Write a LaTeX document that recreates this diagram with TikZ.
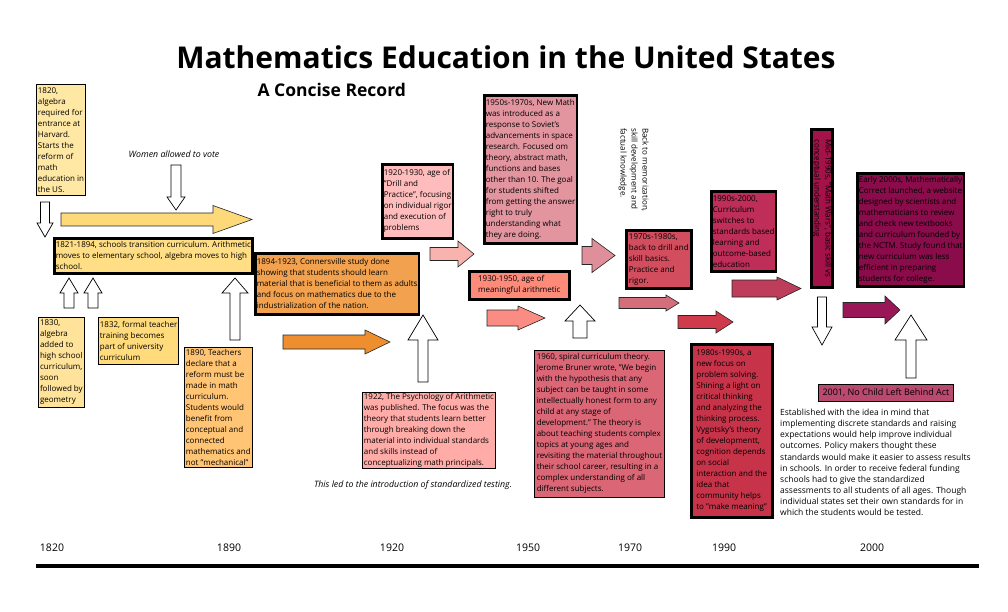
\documentclass[tikz,border=0pt]{standalone}
\usepackage{fontspec}
\setmainfont{Open Sans}
\usetikzlibrary{positioning}

\definecolor{c1820}{HTML}{FFE8A4}
\definecolor{c1821}{HTML}{FFDE85}
\definecolor{c1830}{HTML}{FFE39A}
\definecolor{c1832}{HTML}{FFDB7C}
\definecolor{c1890}{HTML}{FFC474}
\definecolor{c1894}{HTML}{F2A24E}
\definecolor{c1920}{HTML}{FFBCBC}
\definecolor{c1922}{HTML}{FFACA8}
\definecolor{c1950}{HTML}{E3959F}
\definecolor{c1930}{HTML}{FE8A7A}
\definecolor{c1960}{HTML}{DA6676}
\definecolor{c1970}{HTML}{D24D5E}
\definecolor{c1980}{HTML}{C7344A}
\definecolor{c1990}{HTML}{BE2E58}
\definecolor{cMid}{HTML}{A4124A}
\definecolor{cEarly}{HTML}{8A0C4B}
\definecolor{cNCLB}{HTML}{BA496F}
\definecolor{aYellow}{HTML}{FDD97A}
\definecolor{aOrange}{HTML}{EF8E2E}
\definecolor{aPink}{HTML}{F8B3AE}
\definecolor{aSalmon}{HTML}{FA8C84}
\definecolor{aRose}{HTML}{DF8F99}
\definecolor{aMauve}{HTML}{D46E7A}
\definecolor{aRed}{HTML}{CF3B4B}
\definecolor{aCrimson}{HTML}{BD3D5A}
\definecolor{aPlum}{HTML}{991657}

\newcommand{\boxfont}{\fontsize{8}{11}\selectfont}

\begin{document}
\begin{tikzpicture}[
    x=1pt, y=-1pt,
    font=\boxfont,
    box/.style={draw=black, line width=0.8pt, anchor=north west, align=left, inner xsep=1.5pt, inner ysep=1pt},
    heavy/.style={box, line width=2.6pt},
    blockarrow/.style={draw=black!85, line width=0.6pt},
    hollow/.style={draw=black, fill=white, line width=0.7pt},
    note/.style={font=\fontsize{8.8}{10}\selectfont\itshape},
    yearlbl/.style={font=\fontsize{10.5}{12}\selectfont},
]

\fill[white] (0,0) rectangle (1008,612);
\useasboundingbox (0,0) rectangle (1008,612);

% Title
\node[font=\fontsize{30}{35}\selectfont\bfseries] (title) at (506,57) {Mathematics Education in the United States};
\node[font=\fontsize{17.5}{20}\selectfont\bfseries, anchor=west] (subtitle) at (254,90) {A Concise Record};

% Block arrows pointing right
\foreach \xa/\xh/\xb/\yc/\sw/\hw/\col in {61/213/252/219.5/6.5/14/aYellow, 283/365/390/342/7/12/aOrange,
        430/458/474/254/6.5/13/aPink, 487/518/545/318/8/12/aSalmon, 582/592/615/255.5/9/17/aRose,
        619/666/679/303/5.5/8/aMauve, 678/716/733/322/6.5/11/aRed, 732/777/801/288.5/8.5/11.5/aCrimson,
        843/885/900/310/7.5/14/aPlum} {
    \filldraw[blockarrow, fill=\col] (\xa,\yc-\sw) -- (\xh,\yc-\sw) -- (\xh,\yc-\hw) -- (\xb,\yc)
        -- (\xh,\yc+\hw) -- (\xh,\yc+\sw) -- (\xa,\yc+\sw) -- cycle;
}

% Hollow arrows, up and down
\foreach \xc/\yb/\yh/\yt/\sw/\hw in {176/165/197/210/5/9, 45/202/223/237/4.5/8,
        69/308/293/278/5/9, 93/308/293/278/5/9, 235/340/293/278/5/13, 423/382/340/315/5/15,
        580/338/321/305/7/15, 822/297/327/345/4.5/10, 911/378/340/315/5/16} {
    \filldraw[hollow] (\xc-\sw,\yb) -- (\xc-\sw,\yh) -- (\xc-\hw,\yh) -- (\xc,\yt)
        -- (\xc+\hw,\yh) -- (\xc+\sw,\yh) -- (\xc+\sw,\yb) -- cycle;
}

% 1820 - 1890
\node[box, fill=c1820, minimum width=48pt, minimum height=111pt] (b1820) at (36,84)
    {1820,\\ algebra\\ required for\\ entrance at\\ Harvard.\\ Starts the\\ reform of\\ math\\ education in\\ the US.};
\node[note] (women) at (174,154) {Women allowed to vote};
\node[heavy, fill=c1821, minimum width=197pt, minimum height=35pt] (b1821) at (53,237)
    {1821-1894, schools transition curriculum. Arithmetic\\ moves to elementary school, algebra moves to high\\ school.};
\node[box, fill=c1830, minimum width=46pt, minimum height=90pt] (b1830) at (38,317)
    {1830,\\ algebra\\ added to\\ high school\\ curriculum,\\ soon\\ followed by\\ geometry};
\node[box, fill=c1832, minimum width=79pt, minimum height=47pt] (b1832) at (98,317)
    {1832, formal teacher\\ training becomes\\ part of university\\ curriculum};
\node[box, fill=c1890, minimum width=66pt, minimum height=120pt] (b1890) at (184,347)
    {1890, Teachers\\ declare that a\\ reform must be\\ made in math\\ curriculum.\\ Students would\\ benefit from\\ conceptual and\\ connected\\ mathematics and\\ not "mechanical"};

% 1894 - 1950
\node[heavy, fill=c1894, minimum width=163pt, minimum height=61pt] (b1894) at (254,252)
    {1894-1923, Connersville study done\\ showing that students should learn\\ material that is beneficial to them as adults\\ and focus on mathematics due to the\\ industrialization of the nation.};
\node[heavy, fill=c1920, minimum width=64pt, minimum height=74pt] (b1920) at (381,163)
    {1920-1930, age of\\ "Drill and\\ Practice", focusing\\ on individual rigor\\ and execution of\\ problems};
\node[box, fill=c1922, minimum width=131pt, minimum height=76pt] (b1922) at (362,392)
    {1922, The Psychology of Arithmetic\\ was published. The focus was the\\ theory that students learn better\\ through breaking down the\\ material into individual standards\\ and skills instead of\\ conceptualizing math principals.};
\node[note] (testing) at (413,485) {This led to the introduction of standardized testing.};
\node[heavy, fill=c1950, minimum width=92pt, minimum height=148pt] (b1950) at (483,94)
    {1950s-1970s, New Math\\ was introduced as a\\ response to  Soviet's\\ advancements in space\\ research. Focused om\\ theory, abstract math,\\ functions and bases\\ other than 10. The goal\\ for students shifted\\ from getting the answer\\ right to truly\\ understanding what\\ they are doing.};
\node[heavy, fill=c1930, minimum width=100pt, minimum height=28pt] (b1930) at (468,270)
    {1930-1950, age of\\ meaningful arithmetic};
\node[box, fill=c1960, minimum width=130pt, minimum height=147pt] (b1960) at (534,350)
    {1960,  spiral curriculum theory.\\ Jerome Bruner wrote, "We begin\\ with the hypothesis that any\\ subject can be taught in some\\ intellectually honest form to any\\ child at any stage of\\ development." The theory is\\ about teaching students complex\\ topics at young ages and\\ revisiting the material throughout\\ their school career, resulting in a\\ complex understanding of all\\ different subjects.};

% 1970 - 2000
\node[rotate=-90, anchor=north west, align=left, inner sep=0pt] (memo) at (649,128)
    {Back to memorization,\\ skill development and\\ factual knowledge.};
\node[heavy, fill=c1970, minimum width=65pt, minimum height=58pt] (b1970) at (625,229)
    {1970s-1980s,\\ back to drill and\\ skill basics.\\ Practice and\\ rigor.};
\node[heavy, fill=c1980, minimum width=81pt, minimum height=173pt] (b1980) at (690,343)
    {1980s-1990s, a\\ new focus on\\ problem solving.\\ Shining a light on\\ critical thinking\\ and analyzing the\\ thinking process.\\ Vygotsky's theory\\ of developmentt,\\ cognition depends\\ on social\\ interaction and the\\ idea that\\ community helps\\ to "make meaning"};
\node[heavy, fill=c1990, minimum width=62pt, minimum height=80pt] (b1990) at (710,190)
    {1990s-2000,\\ Curriculum\\ switches to\\ standards based\\ learning and\\ outcome-based\\ education};
\node[heavy, fill=cMid, rotate=-90, minimum width=158pt] (b1995) at (834,128)
    {Mid-1990s, "Math Wars", basic skill vs\\ conceptual understanding};
\node[heavy, fill=cEarly, minimum width=106pt, minimum height=113pt] (b2000) at (856,172)
    {Early 2000s, Mathematically\\ Correct launched, a website\\ designed by scientists and\\ mathematicians to review\\ and check new textbooks\\ and curriculum founded by\\ the NCTM. Study found that\\ new curriculum was less\\ efficient in preparing\\ students for college.};
\node[box, fill=cNCLB, font=\fontsize{9}{11}\selectfont, minimum width=135pt, minimum height=17pt] (b2001) at (818,384)
    {2001, No Child Left Behind Act};
\node[anchor=north west, align=left, inner sep=0pt, font=\fontsize{8.5}{11.1}\selectfont] (nclbtext) at (780,409)
    {Established with the idea in mind that\\ implementing discrete standards and raising\\ expectations would help improve individual\\ outcomes. Policy makers thought these\\ standards would make it easier to assess results\\ in schools. In order to receive federal funding\\ schools had to give the standardized\\ assessments to all students of all ages. Though\\ individual states set their own standards for in\\ which the students would be tested.};

% Time axis
\foreach \yr/\xx in {1820/52, 1890/229, 1920/392, 1950/528, 1970/630, 1990/724, 2000/872} {
    \node[yearlbl] (y\yr) at (\xx,548) {\yr};
}
\coordinate (axisL) at (36,566);
\coordinate (axisR) at (979,566);
\draw[line width=4pt] (axisL) -- (axisR);

\end{tikzpicture}
\end{document}
